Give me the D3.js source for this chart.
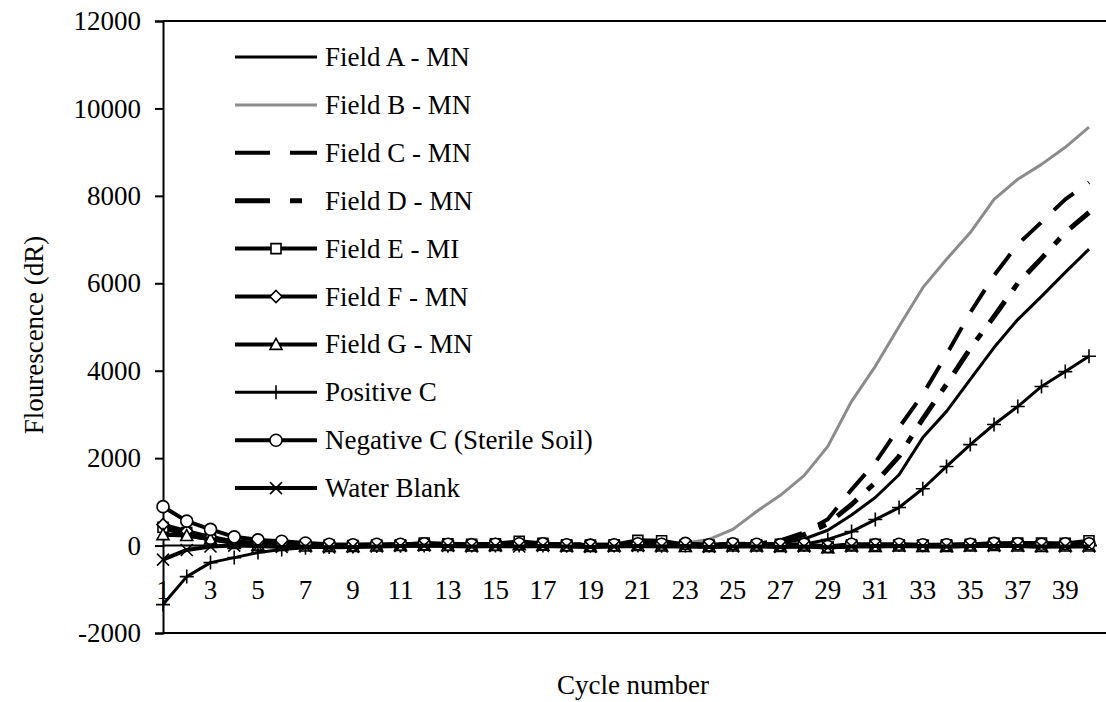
<!DOCTYPE html>
<html>
<head>
<meta charset="utf-8">
<script src="https://d3js.org/d3.v7.min.js"></script>
<style>
body { margin: 0; background: #fff; }
svg text { font-family: "Liberation Serif", "Tinos", "Times New Roman", "DejaVu Serif", serif; fill: #000; }
</style>
</head>
<body>
<svg width="1106" height="702"></svg>
<script>
// cycle numbers and tick labels
const cycles = [1,2,3,4,5,6,7,8,9,10,11,12,13,14,15,16,17,18,19,20,21,22,23,24,25,26,27,28,29,30,31,32,33,34,35,36,37,38,39,40];
const xTickLabels = [1,3,5,7,9,11,13,15,17,19,21,23,25,27,29,31,33,35,37,39];
const yTicks = [-2000,0,2000,4000,6000,8000,10000,12000];

// series values (dR)
const fieldA = [380,220,130,70,40,20,10,5,0,5,10,15,10,5,0,5,10,10,5,0,10,15,10,5,10,20,60,150,350,700,1100,1620,2470,3070,3800,4530,5170,5700,6250,6780];
const fieldB = [350,250,150,80,40,20,15,10,5,10,15,20,15,10,5,10,15,20,15,10,20,30,60,140,370,780,1150,1600,2270,3300,4100,5010,5900,6550,7160,7920,8380,8720,9110,9570];
const fieldC = [400,260,150,80,40,25,15,10,5,10,15,20,15,10,5,10,15,20,15,10,15,20,15,10,20,40,120,300,600,1280,1900,2700,3460,4370,5330,6180,6890,7400,7920,8310];
const fieldD = [420,270,160,90,45,25,15,10,5,10,15,20,15,10,5,10,15,20,15,10,15,20,15,10,20,35,100,250,500,940,1440,2040,2900,3690,4510,5240,6000,6570,7160,7620];
const fieldE = [420,300,180,80,40,30,20,10,0,10,20,60,40,30,40,100,50,20,10,20,120,110,20,10,30,20,30,10,-40,20,30,20,10,20,30,50,60,60,50,110];
const fieldF = [480,330,200,90,40,30,20,0,-10,0,10,20,10,20,30,40,30,10,0,10,20,30,20,0,20,10,20,10,-20,10,20,10,0,10,20,40,30,20,20,40];
const fieldG = [250,230,150,50,10,0,-10,-20,-20,-10,0,10,0,-10,0,20,10,-10,-20,-10,0,-10,-20,-20,-10,-10,-20,-10,-50,-10,-20,-10,-20,-20,-10,0,-10,-20,-10,-10];
const positiveC = [-1350,-710,-390,-275,-160,-90,-50,-30,-20,-10,-5,0,-5,0,0,0,0,-5,0,0,0,-5,0,0,5,10,15,30,140,320,595,870,1300,1810,2310,2770,3180,3640,3980,4330];
const negativeC = [890,560,370,200,130,100,60,30,20,30,30,40,30,20,30,40,40,20,10,20,40,30,50,20,40,30,20,30,-20,30,20,30,20,20,30,50,40,30,40,40];
const waterBlank = [-320,-100,-20,0,-10,-30,-20,-40,-30,-20,-10,0,-10,-20,-10,-20,-10,-20,-30,-20,-10,-20,-10,-30,-20,-20,-30,-20,-40,-20,-10,-10,-10,-20,-10,-10,-10,-20,-20,-20];

const seriesNames = ["Field A - MN","Field B - MN","Field C - MN","Field D - MN","Field E - MI","Field F - MN","Field G - MN","Positive C","Negative C (Sterile Soil)","Water Blank"];

const series = [
  {name: seriesNames[0], values: fieldA, color: "#000", width: 3, dash: null, marker: null},
  {name: seriesNames[1], values: fieldB, color: "#8c8c8c", width: 3, dash: null, marker: null},
  {name: seriesNames[2], values: fieldC, color: "#000", width: 4, dash: "26,18", marker: null},
  {name: seriesNames[3], values: fieldD, color: "#000", width: 5, dash: "26,14,8,14", marker: null},
  {name: seriesNames[4], values: fieldE, color: "#000", width: 4, dash: null, marker: "square"},
  {name: seriesNames[5], values: fieldF, color: "#000", width: 4, dash: null, marker: "diamond"},
  {name: seriesNames[6], values: fieldG, color: "#000", width: 4, dash: null, marker: "triangle"},
  {name: seriesNames[7], values: positiveC, color: "#000", width: 3, dash: null, marker: "plus"},
  {name: seriesNames[8], values: negativeC, color: "#000", width: 4, dash: null, marker: "circle"},
  {name: seriesNames[9], values: waterBlank, color: "#000", width: 4, dash: null, marker: "cross"}
];

const markerPaths = {
  square: "M-5,-5H5V5H-5Z",
  diamond: "M0,-6L6,0L0,6L-6,0Z",
  triangle: "M0,-6L6,5H-6Z",
  circle: "M6,0A6,6 0 1,1 -6,0A6,6 0 1,1 6,0Z",
  plus: "M-7,0H7M0,-7V7",
  cross: "M-6,-6L6,6M-6,6L6,-6"
};
const filled = {square: true, diamond: true, triangle: true, circle: true, plus: false, cross: false};

const fontName = "'Liberation Serif', Tinos, 'Times New Roman', 'DejaVu Serif', serif";
const svg = d3.select("svg");
const plotLeft = 163, plotRight = 1089, plotTop = 21, plotBottom = 633;

const x = d3.scaleLinear().domain([1, 40]).range([plotLeft, plotRight]);
const y = d3.scaleLinear().domain([-2000, 12000]).range([plotBottom, plotTop]);

// frame lines
svg.append("line").attr("x1", plotLeft).attr("x2", 1106).attr("y1", plotTop).attr("y2", plotTop)
  .attr("stroke", "#000").attr("stroke-width", 2);
svg.append("line").attr("x1", plotLeft).attr("x2", 1106).attr("y1", plotBottom).attr("y2", plotBottom)
  .attr("stroke", "#000").attr("stroke-width", 2);

// y axis
const yAxis = d3.axisLeft(y).tickValues(yTicks).tickSize(8).tickPadding(14).tickFormat(d => String(d));
const gy = svg.append("g").attr("transform", `translate(${plotLeft},0)`).call(yAxis);
gy.attr("font-family", fontName);
gy.select(".domain").attr("stroke-width", 2);
gy.selectAll(".tick line").attr("stroke-width", 2);
gy.selectAll("text").attr("font-size", 27);

// x axis line at zero
svg.append("line").attr("x1", plotLeft).attr("x2", 1097).attr("y1", y(0)).attr("y2", y(0))
  .attr("stroke", "#000").attr("stroke-width", 2);

// x tick labels
svg.append("g").selectAll("text").data(xTickLabels).enter().append("text")
  .attr("x", d => x(d)).attr("y", 599).attr("text-anchor", "middle")
  .attr("font-family", fontName).attr("font-size", 27).text(d => d);

// lines and markers
const line = d3.line().x((d, i) => x(cycles[i])).y(d => y(d));
series.forEach(s => {
  svg.append("path").datum(s.values).attr("d", line)
    .attr("fill", "none").attr("stroke", s.color).attr("stroke-width", s.width)
    .attr("stroke-dasharray", s.dash).attr("stroke-linejoin", "round");
  if (s.marker) {
    svg.append("g").selectAll("path").data(s.values).enter().append("path")
      .attr("transform", (d, i) => `translate(${x(cycles[i])},${y(d)})`)
      .attr("d", markerPaths[s.marker])
      .attr("fill", filled[s.marker] ? "#fff" : "none")
      .attr("stroke", "#000").attr("stroke-width", 1.6);
  }
});

// legend
const legend = svg.append("g");
series.forEach((s, i) => {
  const ly = 57 + i * 47.9;
  legend.append("line").attr("x1", 235).attr("x2", 317).attr("y1", ly).attr("y2", ly)
    .attr("stroke", s.color).attr("stroke-width", s.width)
    .attr("stroke-dasharray", s.dash === null ? null : (i === 2 ? "35,20" : "35,20,12,20"));
  if (s.marker) {
    legend.append("path").attr("transform", `translate(276,${ly})`).attr("d", markerPaths[s.marker])
      .attr("fill", filled[s.marker] ? "#fff" : "none").attr("stroke", "#000").attr("stroke-width", 1.6);
  }
  legend.append("text").attr("x", 325).attr("y", ly + 9).attr("font-family", fontName)
    .attr("font-size", 27).text(s.name);
});

// axis titles
svg.append("text").attr("x", 633).attr("y", 694).attr("text-anchor", "middle")
  .attr("font-family", fontName).attr("font-size", 27).text("Cycle number");
svg.append("text").attr("transform", "translate(43,335) rotate(-90)").attr("text-anchor", "middle")
  .attr("font-family", fontName).attr("font-size", 27).text("Flourescence (dR)");
</script>
</body>
</html>
